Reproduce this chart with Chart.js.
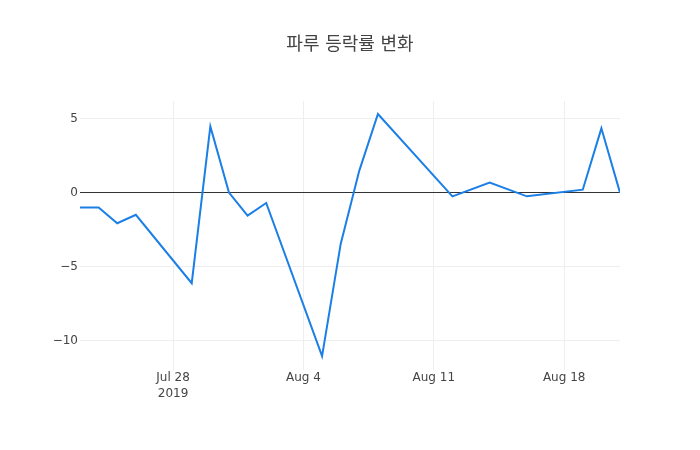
<!DOCTYPE html>
<html><head><meta charset="utf-8">
<script src="https://cdn.jsdelivr.net/npm/chart.js@4.4.1/dist/chart.umd.min.js"></script>
<style>html,body{margin:0;padding:0;background:#fff}#wrap{width:700px;height:450px}</style>
</head><body><div id="wrap"><canvas id="c" width="700" height="450"></canvas></div>
<script>
const dates = ["2019-07-23","2019-07-24","2019-07-25","2019-07-26","2019-07-29","2019-07-30","2019-07-31","2019-08-01","2019-08-02","2019-08-05","2019-08-06","2019-08-07","2019-08-08","2019-08-12","2019-08-14","2019-08-16","2019-08-19","2019-08-20","2019-08-21"];
const changes = [-1.0,-1.0,-2.07,-1.5,-6.13,4.48,0.0,-1.55,-0.7,-11.06,-3.47,1.49,5.32,-0.25,0.68,-0.25,0.2,4.35,0.0];
const xTickDates = ["2019-07-28","2019-08-04","2019-08-11","2019-08-18"];
const yTicks = [-10,-5,0,5];
const titleText = "파루 등락률 변화";
const MONTHS = ["Jan","Feb","Mar","Apr","May","Jun","Jul","Aug","Sep","Oct","Nov","Dec"];

const DAY = 86400000;
const toDay = s => Date.parse(s + "T00:00:00Z") / DAY;
const points = dates.map((d, i) => ({x: toDay(d), y: changes[i]}));
const xTickVals = xTickDates.map(toDay);
const FONT = "'DejaVu Sans','Noto Sans CJK KR',sans-serif";

new Chart(document.getElementById('c'), {
  type: 'line',
  data: { datasets: [{ data: points, borderColor: '#1b7fe6', borderWidth: 2, pointRadius: 0, tension: 0, fill: false }] },
  options: {
    responsive: false, animation: false,
    layout: { padding: 0 },
    plugins: {
      legend: { display: false }, tooltip: { enabled: false },
      title: { display: true, text: titleText, color: '#444', align: 'center',
        font: { family: FONT, size: 18, weight: 'normal', lineHeight: 1.2 },
        padding: { top: 35, bottom: 44.4 } }
    },
    scales: {
      x: {
        type: 'linear', min: toDay(dates[0]), max: toDay(dates[dates.length-1]),
        afterBuildTicks: s => { s.ticks = xTickVals.map(v => ({value: v})); },
        afterFit: s => { s.height = 80; },
        grid: { color: '#eeeeee', drawTicks: false, lineWidth: 1 },
        border: { display: false },
        ticks: { color: '#444', padding: 0, maxRotation: 0, autoSkip: false,
          font: { family: FONT, size: 12, lineHeight: 1.3333 },
          callback: function(v, i) {
            const d = new Date(v * DAY);
            const lab = MONTHS[d.getUTCMonth()] + " " + d.getUTCDate();
            return i === 0 ? [lab, String(d.getUTCFullYear())] : lab;
          } }
      },
      y: {
        min: -12.0, max: 6.2,
        afterBuildTicks: s => { s.ticks = yTicks.map(v => ({value: v})); },
        afterFit: s => { s.width = 80; },
        grid: { color: c => c.tick && c.tick.value === 0 ? '#333' : '#eeeeee', drawTicks: false, lineWidth: 1 },
        border: { display: false },
        ticks: { color: '#444', padding: 2,
          font: { family: FONT, size: 12 },
          callback: v => v < 0 ? '\u2212' + Math.abs(v) : String(v) }
      },
      yRight: {
        position: 'right', min: -12.0, max: 6.2,
        afterFit: s => { s.width = 80; },
        grid: { display: false, drawOnChartArea: false },
        border: { display: false },
        ticks: { display: false }
      }
    }
  }
});
</script></body></html>
